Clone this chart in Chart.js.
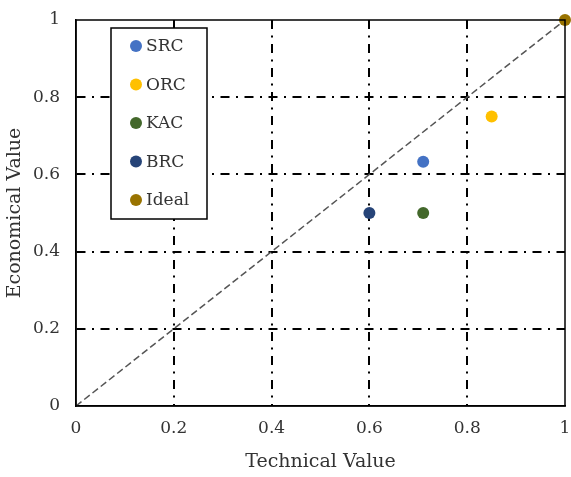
<!DOCTYPE html>
<html><head><meta charset="utf-8">
<script src="https://cdn.jsdelivr.net/npm/chart.js@4"></script>
<style>html,body{margin:0;padding:0;background:#fff}#wrap{width:571px;height:477px}</style>
</head><body><div id="wrap"><canvas id="c" width="571" height="477"></canvas></div>
<script>
const seriesNames = ["SRC", "ORC", "KAC", "BRC", "Ideal"];
const technicalValues = [0.71, 0.85, 0.71, 0.60, 1.00];
const economicalValues = [0.633, 0.75, 0.50, 0.50, 1.00];
const seriesColors = ["#4472C4", "#FFC000", "#43682B", "#264478", "#997300"];
const tickValues = [0, 0.2, 0.4, 0.6, 0.8, 1];
const idealLine = [{x:0,y:0},{x:1,y:1}];
const xTitle = "Technical Value";
const yTitle = "Economical Value";

const FONT = "'DejaVu Serif', serif";
const TXT = "#333333";
const GRID_DASH = [9,6.5,2,6.5];
const datasets = seriesNames.map((n,i)=>({
  label:n, data:[{x:technicalValues[i], y:economicalValues[i]}],
  backgroundColor:seriesColors[i], borderColor:seriesColors[i],
  pointRadius:6, pointHoverRadius:6, borderWidth:0, showLine:false, clip:false, order:1
}));
datasets.push({label:"__diag", data:idealLine, showLine:true, pointRadius:0, borderColor:"#555555",
  borderWidth:1.5, borderDash:[7,3.5], fill:false, order:2});

const legendBox = {
  id:'legendBox',
  afterDraw(chart){
    const ctx=chart.ctx, a=chart.chartArea;
    ctx.save();
    ctx.strokeStyle="#000"; ctx.lineWidth=1.5; ctx.setLineDash([]);
    ctx.strokeRect(a.left,a.top,a.right-a.left,a.bottom-a.top);
    const L=111, T=28, W=96, H=191;
    ctx.fillStyle="#fff"; ctx.fillRect(L,T,W,H);
    ctx.strokeStyle="#000"; ctx.lineWidth=1.5; ctx.strokeRect(L,T,W,H);
    ctx.font="17px "+FONT; ctx.textBaseline="middle"; ctx.textAlign="left";
    chart.data.datasets.forEach((d,i)=>{
      if(d.label.startsWith("__")) return;
      const y=T+18+i*38.5;
      ctx.fillStyle=d.backgroundColor; ctx.beginPath(); ctx.arc(L+25,y,6,0,Math.PI*2); ctx.fill();
      ctx.fillStyle=TXT; ctx.fillText(d.label,L+35,y+1);
    });
    ctx.restore();
  }
};

const gridCfg = {
  color:(c)=> (c.tick && (c.tick.value===0||c.tick.value===1)) ? "rgba(0,0,0,0)" : "#000",
  lineWidth:2, drawTicks:false
};

new Chart(document.getElementById('c'),{
  type:'scatter',
  data:{datasets},
  plugins:[legendBox],
  options:{
    responsive:false, animation:false, devicePixelRatio:1,
    layout:{padding:{top:20,right:5,left:0,bottom:0}},
    plugins:{legend:{display:false}, tooltip:{enabled:false}},
    scales:{
      x:{type:'linear', min:0, max:1,
        afterBuildTicks:(s)=>{s.ticks=tickValues.map(v=>({value:v}));},
        afterFit:(s)=>{s.height=71; s.paddingLeft=0; s.paddingRight=0;},
        ticks:{padding:12, color:TXT, font:{family:FONT,size:17}, callback:(v)=>String(v)},
        grid:gridCfg,
        border:{display:true,color:"#000",width:1.5, dash:GRID_DASH},
        title:{display:true,text:xTitle,color:TXT,font:{family:FONT,size:19},padding:{top:2}}
      },
      y:{type:'linear', min:0, max:1,
        afterBuildTicks:(s)=>{s.ticks=tickValues.map(v=>({value:v}));},
        afterFit:(s)=>{s.width=76; s.paddingTop=0; s.paddingBottom=0;},
        ticks:{padding:16, color:TXT, font:{family:FONT,size:17}, callback:(v)=>String(v)},
        grid:gridCfg,
        border:{display:true,color:"#000",width:1.5, dash:GRID_DASH},
        title:{display:true,text:yTitle,color:TXT,font:{family:FONT,size:19},padding:{bottom:0}}
      }
    }
  }
});
</script></body></html>
